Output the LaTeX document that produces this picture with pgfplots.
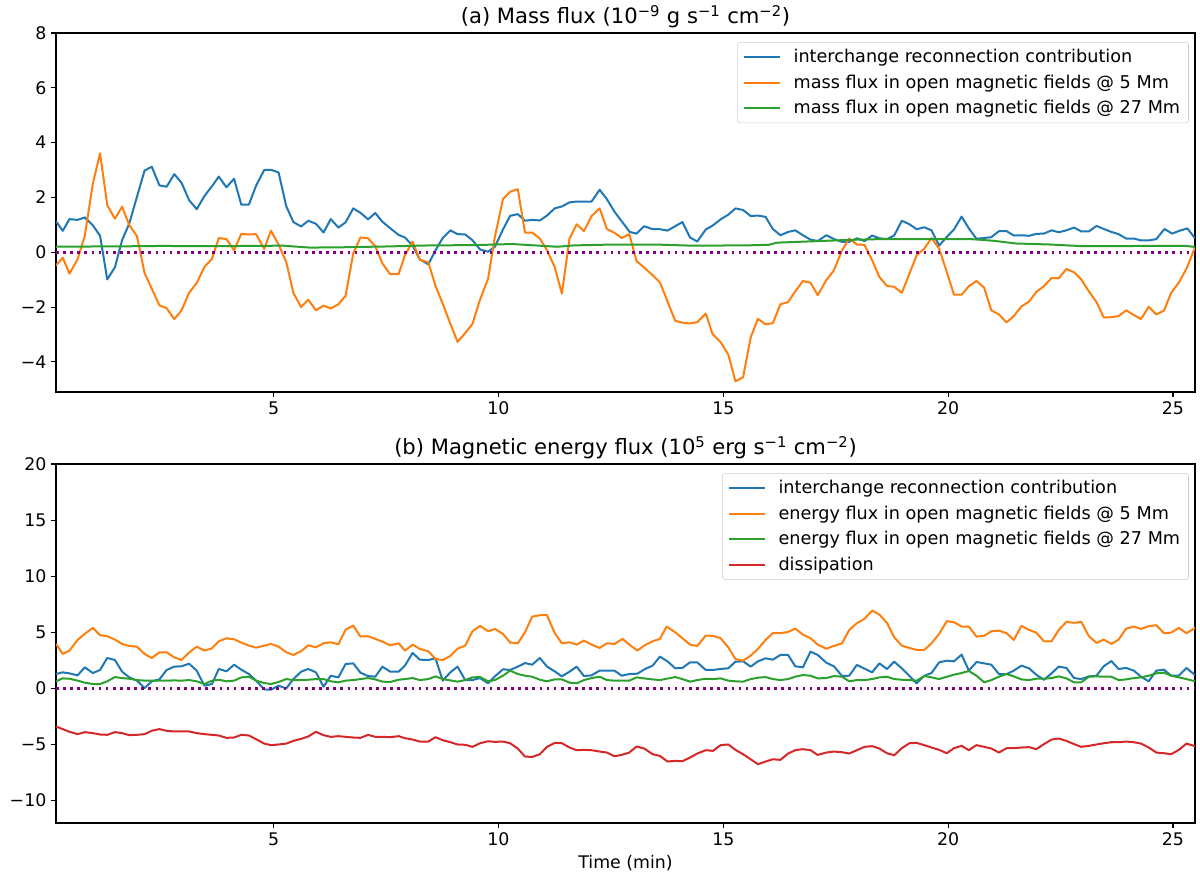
\documentclass[border=0pt]{standalone}
\usepackage{pgfplots}
\pgfplotsset{compat=1.18}
\usepackage{fontspec}
\setmainfont{DejaVu Sans}

\definecolor{c0}{HTML}{1F77B4}
\definecolor{c1}{HTML}{FF7F0E}
\definecolor{c2}{HTML}{2CA02C}
\definecolor{c3}{HTML}{D62728}
\definecolor{zline}{HTML}{800080}

\newcommand\tickfont{\fontsize{12.5}{15}\selectfont}
\newcommand\legfont{\fontsize{12.7}{15.2}\selectfont}
\newcommand\titlefont{\fontsize{15.2}{18.2}\selectfont}

\pgfplotsset{
  panel/.style={
    width=820.08pt, height=258.48pt, scale only axis,
    xmin=0.16, xmax=25.49,
    xtick={5,10,15,20,25}, xticklabels={5,10,15,20,25},
    tick align=outside, xtick pos=left, ytick pos=left,
    major tick length=3.4pt,
    axis line style={line width=0.77pt},
    every tick/.style={line width=0.77pt, black},
    tick label style={font=\tickfont},
    label style={font=\tickfont},
    every axis title shift=0pt,
    title style={font=\titlefont, at={(0.5,1)}, anchor=base, yshift=7pt},
    legend cell align=left,
    legend style={at={(1,1)}, anchor=north east, xshift=-4.5pt, yshift=-6.5pt,
      draw=black!20, rounded corners=2pt, fill=white, fill opacity=0.8, text opacity=1,
      font=\legfont, inner xsep=4pt, inner ysep=3pt, row sep=3.3pt},
    legend image code/.code={\draw[#1] (0pt,0pt) -- (26pt,0pt); \path (33pt,0pt);},
    every axis plot/.append style={line width=1.44pt, line join=round},
  },
  zero/.style={zline, line width=1.92pt, dash pattern=on 1.92pt off 3.2pt, forget plot},
}

\begin{document}
\begin{tikzpicture}
% (a) mass flux
\begin{axis}[panel, name=top, at={(0,0)}, anchor=south west,
  ymin=-5.1, ymax=8,
  ytick={-4,-2,0,2,4,6,8}, yticklabels={−4,−2,0,2,4,6,8},
  title={(a) Mass flux (10\textsuperscript{−9} g s\textsuperscript{−1} cm\textsuperscript{−2})}]
\addplot[c0] coordinates {
(0.16,1.13)(0.31,0.78)(0.46,1.21)(0.64,1.18)(0.80,1.27)(0.98,0.98)(1.14,0.60)(1.30,-0.99)(1.47,-0.55)(1.63,0.44)
(1.79,1.05)(1.96,2.02)(2.13,2.98)(2.29,3.12)(2.46,2.44)(2.62,2.39)(2.79,2.85)(2.95,2.54)(3.12,1.90)(3.29,1.57)
(3.46,2.05)(3.63,2.41)(3.78,2.76)(3.95,2.37)(4.12,2.68)(4.28,1.74)(4.45,1.74)(4.61,2.43)(4.79,3.00)(4.94,3.01)
(5.11,2.91)(5.28,1.68)(5.44,1.10)(5.61,0.94)(5.77,1.15)(5.94,1.04)(6.11,0.72)(6.27,1.21)(6.44,0.90)(6.60,1.09)
(6.77,1.60)(6.93,1.44)(7.10,1.20)(7.26,1.43)(7.42,1.11)(7.59,0.88)(7.78,0.63)(7.92,0.54)(8.09,0.24)(8.25,-0.26)
(8.44,-0.44)(8.60,0.07)(8.76,0.52)(8.93,0.80)(9.09,0.66)(9.26,0.65)(9.42,0.44)(9.59,0.10)(9.77,0.02)(9.92,0.20)
(10.10,0.83)(10.26,1.33)(10.43,1.39)(10.59,1.15)(10.75,1.18)(10.92,1.16)(11.08,1.34)(11.25,1.60)(11.41,1.67)(11.58,1.82)
(11.74,1.85)(11.90,1.85)(12.07,1.85)(12.25,2.28)(12.41,1.94)(12.58,1.48)(12.74,1.13)(12.92,0.74)(13.07,0.68)(13.24,0.95)
(13.43,0.84)(13.59,0.84)(13.76,0.79)(13.93,0.95)(14.09,1.10)(14.26,0.54)(14.42,0.39)(14.61,0.83)(14.77,0.98)(14.94,1.20)
(15.11,1.37)(15.27,1.60)(15.44,1.54)(15.61,1.32)(15.77,1.34)(15.94,1.29)(16.10,0.85)(16.27,0.62)(16.44,0.74)(16.60,0.80)
(16.77,0.62)(16.94,0.46)(17.10,0.41)(17.29,0.62)(17.46,0.48)(17.64,0.38)(17.80,0.38)(17.97,0.51)(18.14,0.41)(18.31,0.61)
(18.47,0.51)(18.64,0.48)(18.80,0.61)(18.97,1.15)(19.14,1.02)(19.30,0.84)(19.47,0.91)(19.63,0.80)(19.80,0.24)(19.97,0.56)
(20.13,0.83)(20.30,1.30)(20.46,0.87)(20.63,0.49)(20.80,0.52)(20.96,0.55)(21.13,0.77)(21.30,0.77)(21.46,0.61)(21.63,0.62)
(21.80,0.60)(21.96,0.67)(22.13,0.68)(22.30,0.80)(22.46,0.73)(22.63,0.80)(22.80,0.90)(22.96,0.76)(23.13,0.76)(23.30,0.96)
(23.46,0.85)(23.63,0.74)(23.79,0.66)(23.96,0.50)(24.13,0.50)(24.29,0.43)(24.46,0.43)(24.63,0.48)(24.81,0.85)(24.98,0.68)
(25.14,0.78)(25.32,0.87)(25.49,0.51)};
\addplot[c1] coordinates {
(0.16,-0.48)(0.31,-0.20)(0.46,-0.78)(0.64,-0.26)(0.80,0.60)(0.98,2.51)(1.14,3.61)(1.30,1.72)(1.47,1.22)(1.63,1.66)
(1.79,0.99)(1.96,0.59)(2.13,-0.76)(2.29,-1.33)(2.46,-1.94)(2.62,-2.04)(2.79,-2.44)(2.95,-2.13)(3.12,-1.48)(3.29,-1.12)
(3.46,-0.54)(3.63,-0.24)(3.78,0.52)(3.95,0.48)(4.12,0.07)(4.28,0.67)(4.45,0.65)(4.61,0.66)(4.79,0.12)(4.94,0.79)
(5.11,0.28)(5.28,-0.35)(5.44,-1.49)(5.61,-2.00)(5.77,-1.73)(5.94,-2.12)(6.11,-1.95)(6.27,-2.05)(6.44,-1.90)(6.60,-1.59)
(6.77,-0.05)(6.93,0.54)(7.10,0.51)(7.26,0.22)(7.42,-0.41)(7.59,-0.80)(7.78,-0.79)(7.92,-0.11)(8.09,0.39)(8.25,-0.27)
(8.44,-0.37)(8.60,-1.23)(8.76,-1.88)(8.93,-2.61)(9.09,-3.27)(9.26,-2.95)(9.42,-2.62)(9.59,-1.73)(9.77,-0.96)(9.92,0.56)
(10.10,1.94)(10.26,2.21)(10.43,2.30)(10.59,0.72)(10.75,0.72)(10.92,0.50)(11.08,0.07)(11.25,-0.54)(11.41,-1.51)(11.58,0.50)
(11.74,1.02)(11.90,0.77)(12.07,1.32)(12.25,1.60)(12.41,0.85)(12.58,0.71)(12.74,0.52)(12.91,0.66)(13.07,-0.32)(13.24,-0.56)
(13.43,-0.84)(13.59,-1.10)(13.76,-1.80)(13.93,-2.50)(14.09,-2.57)(14.26,-2.60)(14.42,-2.55)(14.61,-2.24)(14.76,-2.98)(14.94,-3.28)
(15.11,-3.73)(15.27,-4.71)(15.44,-4.56)(15.61,-3.10)(15.77,-2.43)(15.94,-2.63)(16.10,-2.59)(16.27,-1.90)(16.44,-1.82)(16.60,-1.43)
(16.77,-1.05)(16.94,-1.11)(17.10,-1.57)(17.29,-1.02)(17.46,-0.66)(17.64,0.07)(17.80,0.50)(17.97,0.28)(18.14,0.27)(18.31,-0.29)
(18.47,-0.90)(18.64,-1.23)(18.80,-1.26)(18.97,-1.48)(19.14,-0.78)(19.30,-0.11)(19.47,0.13)(19.63,0.52)(19.80,0.13)(19.97,-0.72)
(20.13,-1.55)(20.30,-1.55)(20.46,-1.24)(20.63,-1.05)(20.80,-1.29)(20.96,-2.12)(21.13,-2.27)(21.30,-2.56)(21.46,-2.33)(21.63,-1.98)
(21.80,-1.80)(21.96,-1.45)(22.13,-1.24)(22.30,-0.94)(22.46,-0.95)(22.63,-0.61)(22.80,-0.73)(22.96,-0.99)(23.13,-1.43)(23.30,-1.82)
(23.46,-2.38)(23.63,-2.37)(23.79,-2.33)(23.96,-2.12)(24.13,-2.29)(24.29,-2.44)(24.46,-1.99)(24.63,-2.27)(24.80,-2.13)(24.96,-1.48)
(25.13,-1.11)(25.30,-0.60)(25.49,0.17)};
\addplot[c2] coordinates {
(0.16,0.20)(1.0,0.21)(2.0,0.22)(2.5,0.23)(3.5,0.22)(4.5,0.23)(5.2,0.24)(5.8,0.17)(6.5,0.18)(7.5,0.21)
(8.5,0.25)(9.5,0.26)(10.3,0.30)(11.0,0.23)(11.3,0.20)(11.7,0.25)(12.5,0.28)(13.5,0.28)(14.3,0.24)(15.5,0.25)
(16.0,0.27)(16.2,0.35)(17.0,0.40)(17.8,0.45)(18.5,0.48)(19.5,0.48)(20.5,0.48)(21.0,0.42)(21.5,0.32)(22.3,0.28)
(23.0,0.22)(24.5,0.23)(25.3,0.23)(25.49,0.19)};
\addplot[zero] coordinates {(0.16,0)(25.49,0)};
\legend{interchange reconnection contribution, mass flux in open magnetic fields @ 5 Mm, mass flux in open magnetic fields @ 27 Mm}
\end{axis}

% (b) magnetic energy flux
\begin{axis}[panel, name=bot, at={(0,-310.32pt)}, anchor=south west,
  ymin=-12, ymax=20,
  ytick={-10,-5,0,5,10,15,20}, yticklabels={−10,−5,0,5,10,15,20},
  xlabel={Time (min)},
  title={(b) Magnetic energy flux (10\textsuperscript{5} erg s\textsuperscript{−1} cm\textsuperscript{−2})}]
\addplot[c0] coordinates {
(0.16,1.28)(0.31,1.43)(0.46,1.34)(0.64,1.16)(0.80,1.88)(0.98,1.37)(1.14,1.64)(1.30,2.71)(1.47,2.53)(1.63,1.49)
(1.79,0.98)(1.96,0.69)(2.13,0.03)(2.29,0.63)(2.46,0.80)(2.62,1.64)(2.79,1.94)(2.95,1.97)(3.12,2.20)(3.29,1.58)
(3.46,0.24)(3.63,0.39)(3.78,1.73)(3.95,1.52)(4.12,2.11)(4.28,1.67)(4.45,1.28)(4.61,0.69)(4.79,-0.09)(4.94,-0.12)
(5.11,0.24)(5.28,0.00)(5.44,0.83)(5.61,1.49)(5.77,1.73)(5.94,1.43)(6.11,0.15)(6.27,1.13)(6.44,0.98)(6.60,2.17)
(6.77,2.23)(6.93,1.40)(7.10,1.10)(7.26,1.04)(7.42,1.94)(7.59,1.49)(7.78,1.49)(7.92,2.03)(8.09,3.16)(8.25,2.56)
(8.44,2.53)(8.60,2.68)(8.76,0.69)(8.93,1.43)(9.09,1.94)(9.26,0.74)(9.42,0.74)(9.59,0.92)(9.77,0.45)(9.92,1.07)
(10.10,1.70)(10.26,1.64)(10.43,1.94)(10.59,2.26)(10.75,2.11)(10.92,2.71)(11.08,1.94)(11.25,1.52)(11.41,1.07)(11.58,1.49)
(11.74,1.94)(11.90,1.10)(12.07,1.16)(12.25,1.58)(12.41,1.58)(12.58,1.58)(12.74,1.13)(12.91,1.28)(13.09,1.31)(13.26,1.73)
(13.43,2.03)(13.59,2.83)(13.76,2.41)(13.93,1.79)(14.09,1.82)(14.26,2.32)(14.42,2.32)(14.61,1.64)(14.77,1.64)(14.94,1.73)
(15.11,1.79)(15.27,2.38)(15.44,2.41)(15.61,1.94)(15.77,2.41)(15.94,2.68)(16.10,2.56)(16.27,2.98)(16.44,2.98)(16.60,1.97)
(16.77,1.88)(16.94,3.28)(17.10,2.98)(17.29,2.29)(17.46,1.97)(17.64,1.10)(17.80,1.13)(17.97,2.09)(18.14,1.76)(18.31,1.43)
(18.47,2.23)(18.64,1.73)(18.80,2.38)(18.97,1.79)(19.14,1.10)(19.30,0.45)(19.47,1.13)(19.63,1.37)(19.80,2.32)(19.97,2.47)
(20.13,2.41)(20.30,3.01)(20.46,1.58)(20.63,2.35)(20.80,2.23)(20.96,2.11)(21.13,1.28)(21.30,1.28)(21.46,1.58)(21.63,2.03)
(21.80,1.79)(21.96,1.22)(22.13,0.77)(22.30,1.34)(22.46,1.94)(22.63,1.82)(22.80,0.92)(22.96,0.83)(23.13,1.07)(23.30,1.13)
(23.46,1.97)(23.63,2.44)(23.79,1.73)(23.96,1.82)(24.13,1.58)(24.29,1.04)(24.46,0.63)(24.63,1.58)(24.80,1.67)(24.96,1.13)
(25.13,1.13)(25.30,1.82)(25.49,1.19)};
\addplot[c1] coordinates {
(0.16,3.96)(0.31,3.07)(0.46,3.37)(0.64,4.32)(0.80,4.86)(0.98,5.39)(1.14,4.74)(1.30,4.65)(1.47,4.35)(1.63,3.96)
(1.79,3.78)(1.96,3.72)(2.13,3.07)(2.29,2.71)(2.46,3.22)(2.62,3.22)(2.79,2.77)(2.95,2.53)(3.12,3.19)(3.29,3.72)
(3.46,3.37)(3.63,3.57)(3.78,4.20)(3.95,4.47)(4.12,4.38)(4.28,4.08)(4.45,3.81)(4.61,3.63)(4.79,3.81)(4.94,3.96)
(5.11,3.72)(5.28,3.22)(5.44,2.98)(5.61,3.31)(5.77,3.84)(5.94,3.66)(6.11,4.02)(6.27,4.11)(6.44,3.93)(6.60,5.24)
(6.77,5.60)(6.93,4.62)(7.10,4.65)(7.26,4.41)(7.42,4.17)(7.59,3.84)(7.78,4.02)(7.92,3.37)(8.09,3.90)(8.25,3.52)
(8.44,3.31)(8.60,2.62)(8.76,2.53)(8.93,2.89)(9.09,3.54)(9.26,3.81)(9.42,5.09)(9.59,5.57)(9.77,5.09)(9.92,5.30)
(10.10,4.86)(10.26,4.08)(10.43,4.02)(10.59,5.00)(10.75,6.40)(10.92,6.52)(11.08,6.52)(11.25,4.94)(11.41,4.02)(11.58,4.11)
(11.74,3.90)(11.90,4.26)(12.07,3.90)(12.25,3.60)(12.41,4.02)(12.58,3.96)(12.76,4.41)(12.91,3.90)(13.09,3.37)(13.26,3.87)
(13.43,4.20)(13.59,4.41)(13.74,5.51)(13.93,5.00)(14.09,4.47)(14.26,3.90)(14.42,3.78)(14.61,4.71)(14.77,4.68)(14.94,4.47)
(15.11,3.66)(15.27,2.62)(15.44,2.47)(15.61,2.92)(15.77,3.52)(15.94,4.32)(16.10,4.92)(16.27,4.92)(16.44,5.03)(16.60,5.33)
(16.77,4.80)(16.94,4.47)(17.10,3.90)(17.29,3.54)(17.46,3.78)(17.64,4.02)(17.80,5.21)(17.97,5.81)(18.14,6.20)(18.31,6.94)
(18.47,6.58)(18.64,5.84)(18.80,4.56)(18.97,3.81)(19.14,3.60)(19.30,3.43)(19.47,3.43)(19.63,4.02)(19.80,4.86)(19.97,5.99)
(20.13,5.90)(20.30,5.51)(20.46,5.51)(20.63,4.62)(20.80,4.68)(20.96,5.09)(21.13,5.15)(21.30,4.92)(21.46,4.32)(21.63,5.57)
(21.80,5.21)(21.96,4.97)(22.13,4.20)(22.30,4.20)(22.46,5.21)(22.63,5.93)(22.80,5.84)(22.96,5.93)(23.13,4.65)(23.30,4.05)
(23.46,4.35)(23.63,3.96)(23.79,4.35)(23.96,5.33)(24.13,5.51)(24.29,5.30)(24.46,5.54)(24.63,5.63)(24.80,4.92)(24.96,4.97)
(25.13,5.39)(25.30,4.92)(25.49,5.39)};
\addplot[c2] coordinates {
(0.16,0.63)(0.31,0.89)(0.46,0.86)(0.64,0.69)(0.80,0.51)(0.98,0.39)(1.14,0.39)(1.30,0.63)(1.47,1.01)(1.63,0.92)
(1.79,0.86)(1.96,0.74)(2.13,0.69)(2.29,0.69)(2.46,0.69)(2.62,0.69)(2.79,0.71)(2.95,0.69)(3.12,0.74)(3.29,0.63)
(3.46,0.39)(3.63,0.69)(3.78,0.77)(3.95,0.63)(4.12,0.69)(4.28,0.98)(4.45,1.04)(4.61,0.69)(4.79,0.48)(4.94,0.39)
(5.11,0.57)(5.28,0.83)(5.44,0.74)(5.61,0.74)(5.77,0.77)(5.94,0.83)(6.11,0.83)(6.27,0.63)(6.44,0.54)(6.60,0.69)
(6.77,0.74)(6.93,0.83)(7.10,0.92)(7.26,0.80)(7.42,0.60)(7.59,0.57)(7.78,0.77)(7.92,0.83)(8.09,0.92)(8.25,0.74)
(8.44,0.83)(8.60,1.07)(8.76,0.83)(8.93,0.71)(9.09,0.60)(9.26,0.74)(9.42,0.98)(9.59,1.01)(9.77,0.63)(9.92,0.74)
(10.10,1.13)(10.26,1.58)(10.43,1.28)(10.59,1.13)(10.75,1.04)(10.92,0.77)(11.08,0.63)(11.25,0.80)(11.41,0.80)(11.58,0.51)
(11.74,0.45)(11.90,0.74)(12.07,0.92)(12.25,1.04)(12.41,0.74)(12.58,0.69)(12.74,0.69)(12.91,0.69)(13.07,0.98)(13.24,0.89)
(13.43,0.80)(13.59,0.74)(13.74,0.86)(13.93,1.01)(14.09,0.83)(14.26,0.60)(14.42,0.74)(14.61,0.86)(14.77,0.83)(14.94,0.89)
(15.11,0.69)(15.27,0.63)(15.44,0.60)(15.61,0.83)(15.77,0.95)(15.94,1.01)(16.10,0.83)(16.27,0.74)(16.44,0.83)(16.60,1.04)
(16.77,1.19)(16.94,1.13)(17.10,0.89)(17.29,0.92)(17.46,1.10)(17.64,1.04)(17.80,0.63)(17.97,0.74)(18.14,0.74)(18.31,0.83)
(18.47,0.98)(18.64,1.04)(18.80,0.83)(18.97,0.77)(19.14,0.74)(19.30,0.69)(19.47,1.10)(19.63,0.98)(19.80,0.83)(19.97,1.04)
(20.13,1.22)(20.30,1.37)(20.46,1.55)(20.63,1.13)(20.80,0.54)(20.96,0.74)(21.13,1.04)(21.30,1.28)(21.46,1.07)(21.63,0.80)
(21.80,0.74)(21.96,0.86)(22.13,0.86)(22.30,0.92)(22.46,1.07)(22.63,0.89)(22.80,0.54)(22.96,0.54)(23.13,1.04)(23.30,1.07)
(23.46,1.04)(23.63,1.04)(23.79,0.74)(23.96,0.80)(24.13,0.92)(24.29,0.98)(24.46,1.13)(24.63,1.34)(24.80,1.40)(24.96,1.13)
(25.13,0.98)(25.30,0.83)(25.49,0.63)};
\addplot[c3] coordinates {
(0.16,-3.40)(0.31,-3.63)(0.46,-3.87)(0.64,-4.08)(0.80,-3.90)(0.98,-3.99)(1.14,-4.11)(1.30,-4.14)(1.47,-3.90)(1.63,-3.99)
(1.79,-4.17)(1.96,-4.14)(2.13,-4.08)(2.29,-3.78)(2.46,-3.63)(2.62,-3.78)(2.79,-3.84)(2.95,-3.84)(3.12,-3.84)(3.29,-3.99)
(3.46,-4.08)(3.63,-4.14)(3.78,-4.20)(3.95,-4.41)(4.12,-4.38)(4.28,-4.14)(4.45,-4.20)(4.61,-4.53)(4.79,-4.92)(4.94,-5.06)
(5.11,-5.00)(5.28,-4.92)(5.44,-4.68)(5.61,-4.50)(5.77,-4.29)(5.94,-3.87)(6.11,-4.17)(6.27,-4.32)(6.44,-4.26)(6.60,-4.32)
(6.77,-4.38)(6.93,-4.41)(7.10,-4.14)(7.26,-4.32)(7.42,-4.32)(7.59,-4.35)(7.78,-4.26)(7.92,-4.44)(8.09,-4.56)(8.25,-4.74)
(8.44,-4.74)(8.60,-4.35)(8.76,-4.62)(8.93,-4.80)(9.09,-5.00)(9.26,-5.03)(9.42,-5.21)(9.59,-4.89)(9.77,-4.71)(9.92,-4.77)
(10.10,-4.74)(10.26,-4.89)(10.43,-5.36)(10.59,-6.08)(10.75,-6.11)(10.92,-5.87)(11.08,-5.21)(11.25,-4.86)(11.41,-4.89)(11.58,-5.27)
(11.74,-5.51)(11.90,-5.48)(12.07,-5.51)(12.25,-5.63)(12.41,-5.72)(12.58,-6.05)(12.74,-5.93)(12.91,-5.72)(13.07,-5.18)(13.24,-5.36)
(13.43,-5.87)(13.59,-6.02)(13.76,-6.52)(13.93,-6.46)(14.09,-6.49)(14.26,-6.17)(14.42,-5.81)(14.61,-5.51)(14.77,-5.57)(14.94,-5.06)
(15.11,-5.00)(15.27,-5.48)(15.44,-5.87)(15.61,-6.32)(15.77,-6.76)(15.94,-6.52)(16.10,-6.32)(16.27,-6.37)(16.44,-5.81)(16.60,-5.51)
(16.77,-5.42)(16.94,-5.51)(17.10,-5.93)(17.29,-5.72)(17.46,-5.63)(17.64,-5.69)(17.80,-5.81)(17.97,-5.51)(18.14,-5.21)(18.31,-5.15)
(18.47,-5.36)(18.64,-5.78)(18.80,-5.96)(18.97,-5.33)(19.14,-4.89)(19.30,-4.86)(19.47,-5.06)(19.63,-5.27)(19.80,-5.48)(19.97,-5.78)
(20.13,-5.33)(20.30,-5.12)(20.46,-5.51)(20.63,-5.06)(20.80,-5.21)(20.96,-5.36)(21.13,-5.72)(21.30,-5.33)(21.46,-5.33)(21.63,-5.27)
(21.80,-5.24)(21.96,-5.42)(22.13,-4.97)(22.30,-4.56)(22.46,-4.47)(22.63,-4.68)(22.80,-4.97)(22.96,-5.21)(23.13,-5.12)(23.30,-5.00)
(23.46,-4.89)(23.63,-4.80)(23.79,-4.80)(23.96,-4.74)(24.13,-4.80)(24.29,-4.92)(24.46,-5.27)(24.63,-5.72)(24.80,-5.78)(24.96,-5.87)
(25.13,-5.48)(25.30,-4.92)(25.49,-5.15)};
\addplot[zero] coordinates {(0.16,0)(25.49,0)};
\legend{interchange reconnection contribution, energy flux in open magnetic fields @ 5 Mm, energy flux in open magnetic fields @ 27 Mm, dissipation}
\end{axis}

\pgfresetboundingbox
\path[use as bounding box] (-40.32pt,-352.08pt) rectangle (823.68pt,282.24pt);
\end{tikzpicture}
\end{document}
